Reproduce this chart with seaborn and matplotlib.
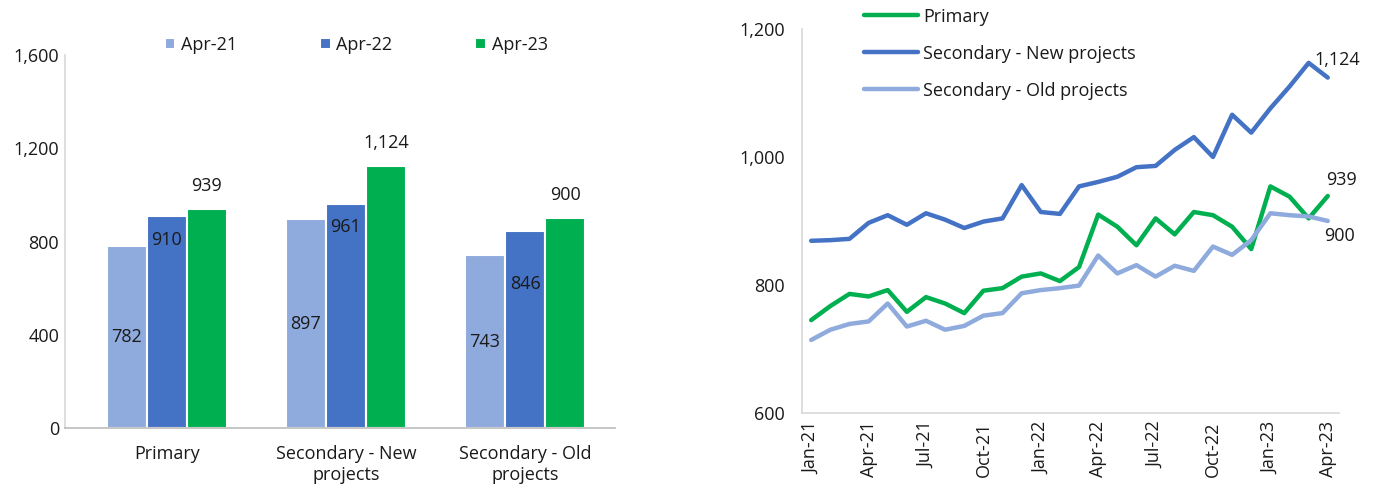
import numpy as np
import pandas as pd
import matplotlib
matplotlib.use("Agg")
import matplotlib.pyplot as plt
from matplotlib.ticker import FuncFormatter
import seaborn as sns

# Données - graphique en barres
categories = ["Primary", "Secondary - New\nprojects", "Secondary - Old\nprojects"]
periods = ["Apr-21", "Apr-22", "Apr-23"]
apr21 = [782, 897, 743]
apr22 = [910, 961, 846]
apr23 = [939, 1124, 900]

# Données - séries mensuelles Jan-21 .. Apr-23
month_ticks = ["Jan-21", "Apr-21", "Jul-21", "Oct-21", "Jan-22",
               "Apr-22", "Jul-22", "Oct-22", "Jan-23", "Apr-23"]
series_names = ["Primary", "Secondary - New projects", "Secondary - Old projects"]
primary = [745, 767, 786, 782, 792, 758, 781, 771, 756, 791, 795, 813, 818, 806,
           828, 910, 891, 862, 904, 879, 914, 909, 891, 856, 954, 938, 904, 939]
sec_new = [869, 870, 872, 897, 909, 894, 912, 902, 889, 899, 904, 956, 914, 911,
           954, 961, 969, 984, 986, 1011, 1031, 1000, 1066, 1038, 1076, 1110, 1147, 1124]
sec_old = [714, 730, 739, 743, 771, 735, 744, 730, 736, 752, 756, 787, 792, 795,
           799, 846, 818, 831, 813, 830, 822, 860, 847, 870, 912, 909, 907, 900]

light_blue = "#8FAADC"
mid_blue = "#4472C4"
green = "#00B050"
grey_axis = "#D9D9D9"
txt = "#1A1A1A"
fs = 13

sns.set_theme(style="white")
plt.rcParams["font.family"] = ["Open Sans", "DejaVu Sans"]

fig = plt.figure(figsize=(13.75, 4.91), dpi=100)
ax1 = fig.add_axes([0.047, 0.128, 0.400, 0.760])
ax2 = fig.add_axes([0.583, 0.159, 0.391, 0.782])

# --- barres
bars = pd.DataFrame({
    "cat": categories * 3,
    "period": [p for p in periods for _ in categories],
    "value": apr21 + apr22 + apr23,
})
sns.barplot(data=bars, x="cat", y="value", hue="period", hue_order=periods,
            order=categories, palette=[light_blue, mid_blue, green], saturation=1,
            width=0.67, edgecolor="white", linewidth=1.5, ax=ax1)

ax1.set_ylim(0, 1600)
ax1.set_yticks([0, 400, 800, 1200, 1600])
ax1.yaxis.set_major_formatter(FuncFormatter(lambda v, p: f"{v:,.0f}"))
ax1.set_xlabel("")
ax1.set_ylabel("")
ax1.set_xlim(-0.57, 2.5)
ax1.tick_params(axis="both", length=0, labelsize=fs, colors=txt)
ax1.tick_params(axis="x", pad=12)
ax1.tick_params(axis="y", pad=4)
for lab in ax1.get_xticklabels():
    lab.set_linespacing(1.25)
for s in ["top", "right"]:
    ax1.spines[s].set_visible(False)
ax1.spines["left"].set_color(grey_axis)
ax1.spines["bottom"].set_color("#BFBFBF")

# étiquettes de valeurs
apr22_shift = [-105, -100, -230]
for j, cont in enumerate(ax1.containers):
    for i, patch in enumerate(cont.patches):
        v = patch.get_height()
        xc = patch.get_x() + patch.get_width() / 2
        if j == 0:
            y = v / 2
        elif j == 1:
            y = v + apr22_shift[i]
        else:
            y = v + 100
        ax1.text(xc, y, f"{v:,.0f}", ha="center", va="center", fontsize=fs, color=txt)

h, l = ax1.get_legend_handles_labels()
ax1.legend(h, l, loc="upper center", bbox_to_anchor=(0.53, 1.095), ncol=3,
           frameon=False, fontsize=fs, handlelength=0.6, handleheight=0.6,
           handletextpad=0.3, columnspacing=4.6, labelcolor=txt)

# --- lignes
months = list(range(len(primary)))
lines = pd.DataFrame({
    "month": months * 3,
    "series": [s for s in series_names for _ in months],
    "value": primary + sec_new + sec_old,
})
sns.lineplot(data=lines, x="month", y="value", hue="series", hue_order=series_names,
             palette=[green, mid_blue, light_blue], linewidth=3.2, ax=ax2,
             solid_joinstyle="round", solid_capstyle="round")

ax2.set_ylim(600, 1200)
ax2.set_yticks([600, 800, 1000, 1200])
ax2.yaxis.set_major_formatter(FuncFormatter(lambda v, p: f"{v:,.0f}"))
ax2.set_xlim(-0.5, 27.6)
ax2.set_xticks(range(0, 28, 3))
ax2.set_xticklabels(month_ticks, rotation=90)
ax2.set_xlabel("")
ax2.set_ylabel("")
ax2.tick_params(axis="both", length=0, labelsize=fs, colors=txt)
ax2.tick_params(axis="x", pad=6)
ax2.tick_params(axis="y", pad=12)
for s in ["top", "right"]:
    ax2.spines[s].set_visible(False)
ax2.spines["left"].set_color(grey_axis)
ax2.spines["bottom"].set_color(grey_axis)

last = len(primary) - 1
ax2.text(last + 0.5, sec_new[-1] + 28, f"{sec_new[-1]:,}", ha="center", va="center",
         fontsize=fs, color=txt)
ax2.text(last + 0.7, primary[-1] + 25, f"{primary[-1]:,}", ha="center", va="center",
         fontsize=fs, color=txt)
ax2.text(last + 0.6, sec_old[-1] - 23, f"{sec_old[-1]:,}", ha="center", va="center",
         fontsize=fs, color=txt)

h2, l2 = ax2.get_legend_handles_labels()
ax2.legend(h2, l2, loc="upper left", bbox_to_anchor=(0.085, 1.098), frameon=False,
           fontsize=fs, handlelength=3.0, handletextpad=0.3, labelspacing=1.05,
           labelcolor=txt)

fig.savefig("out.png", dpi=100)
